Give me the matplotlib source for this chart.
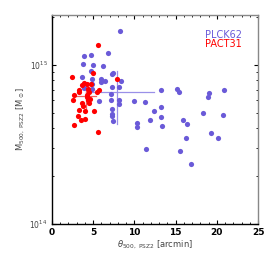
import numpy as np
import matplotlib
matplotlib.use('Agg')
import matplotlib.pyplot as plt
from matplotlib.ticker import MultipleLocator, LogLocator, NullFormatter

# theta_500 [arcmin], M_500 [1e15 Msun]
plck_theta = [8.3, 6.8, 4.77, 3.92, 3.75, 4.97, 6.26, 4.77, 7.47, 7.35,
              4.85, 3.71, 5.98, 5.98, 6.5, 8.4, 4.88, 3.95, 13.25, 15.15,
              15.47, 19.1, 20.85, 18.9, 5.77, 7.15, 8.12, 9.94, 11.3, 8.12,
              13.25, 12.44, 7.27, 7.35, 7.27, 18.3, 20.76, 13.21, 11.88, 7.43,
              15.88, 16.4, 10.34, 10.38, 13.37, 19.35, 20.16, 16.24, 11.47, 15.55,
              16.88, 7.35, 8.16, 7.15, 4.85]
plck_mass = [1.64, 1.19, 1.16, 1.13, 1.01, 1.00, 0.99, 0.91, 0.89, 0.88,
             0.82, 0.84, 0.82, 0.785, 0.79, 0.79, 0.76, 0.72, 0.70, 0.71,
             0.68, 0.67, 0.70, 0.63, 0.59, 0.60, 0.605, 0.594, 0.585, 0.566,
             0.545, 0.514, 0.53, 0.49, 0.48, 0.497, 0.483, 0.47, 0.449, 0.445,
             0.451, 0.425, 0.43, 0.405, 0.411, 0.372, 0.346, 0.347, 0.295, 0.289,
             0.239, 0.73, 0.73, 0.66, 0.71]

pact_theta = [5.65, 4.97, 2.5, 7.85, 3.95, 3.64, 4.24, 4.8, 3.35, 3.35,
              4.44, 4.56, 5.53, 5.77, 2.74, 4.24, 4.24, 2.54, 4.44, 4.64,
              3.64, 4.52, 3.84, 3.3, 4.0, 5.17, 3.19, 4.0, 3.5, 2.7, 5.65]
pact_mass = [1.33, 0.89, 0.84, 0.81, 0.77, 0.75, 0.76, 0.76, 0.70, 0.68,
             0.71, 0.68, 0.68, 0.70, 0.645, 0.65, 0.63, 0.60, 0.60, 0.61,
             0.58, 0.575, 0.55, 0.52, 0.51, 0.51, 0.475, 0.46, 0.45, 0.42, 0.377]

# summary crosshairs: centre, x range, y range
plck_cross = dict(x=7.88, y=0.673, xlo=4.12, xhi=12.4, ylo=0.425, yhi=0.916)
pact_cross = dict(x=4.16, y=0.638, xlo=2.82, xhi=5.37, ylo=0.514, yhi=0.77)

blue = '#6a5ad8'
red = '#ff0000'

fig = plt.figure(figsize=(2.74, 2.57), dpi=100)
ax = fig.add_axes([0.189, 0.128, 0.753, 0.814])

pm = np.array(plck_mass) * 1e15
am = np.array(pact_mass) * 1e15
ax.scatter(plck_theta, pm, s=14, color=blue, linewidths=0, zorder=3)
ax.scatter(pact_theta, am, s=14, color=red, linewidths=0, zorder=4)

for c, col in [(plck_cross, '#9a90e8'), (pact_cross, '#f06060')]:
    ax.plot([c['xlo'], c['xhi']], [c['y'] * 1e15] * 2, color=col, lw=0.9, zorder=2)
    ax.plot([c['x']] * 2, [c['ylo'] * 1e15, c['yhi'] * 1e15], color=col, lw=0.9, zorder=2)

ax.set_xlim(0, 25)
ax.set_yscale('log')
ax.set_ylim(1e14, 2.06e15)

ax.xaxis.set_major_locator(MultipleLocator(5))
ax.xaxis.set_minor_locator(MultipleLocator(1))
ax.yaxis.set_major_locator(LogLocator(base=10))
ax.yaxis.set_minor_locator(LogLocator(base=10, subs=np.arange(2, 10)))
ax.yaxis.set_minor_formatter(NullFormatter())
ax.tick_params(which='both', direction='in', top=True, right=True)
ax.tick_params(which='major', length=3, width=0.8)
ax.tick_params(which='minor', length=1.5, width=0.6)
ax.tick_params(axis='x', labelsize=6.5, pad=3)
ax.tick_params(axis='y', labelsize=5.5, labelcolor='#444444', pad=3)
for lab in ax.get_xticklabels():
    lab.set_fontweight('bold')

ax.spines['left'].set_color('black')
ax.spines['bottom'].set_color('black')
ax.spines['top'].set_color('#888888')
ax.spines['right'].set_color('#888888')
for sp in ax.spines.values():
    sp.set_linewidth(1.0)

ax.set_xlabel(r'$\theta_{500,\ \rm PSZ2}$ [arcmin]', fontsize=6, color='#444444', labelpad=1)
ax.set_ylabel(r'M$_{500,\ \rm PSZ2}$ [M$_\odot$]', fontsize=6, color='#444444', labelpad=2)

ax.text(0.92, 0.905, 'PLCK62', transform=ax.transAxes, ha='right', va='center',
        fontsize=7, color=blue)
ax.text(0.92, 0.86, 'PACT31', transform=ax.transAxes, ha='right', va='center',
        fontsize=7, color=red)

fig.savefig('out.png', dpi=100)
